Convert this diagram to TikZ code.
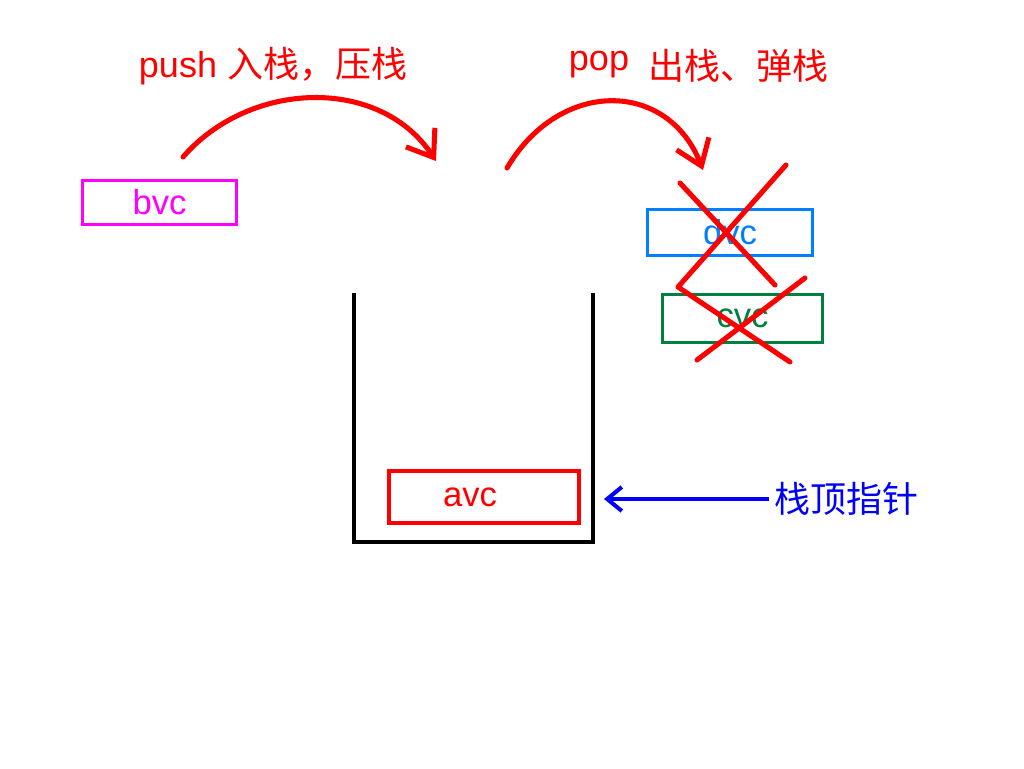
\documentclass[tikz,border=0pt]{standalone}
\usepackage{fontspec}
\setmainfont{Liberation Sans}
\newfontfamily\cjk{Noto Sans CJK SC}
\usetikzlibrary{arrows.meta}
\definecolor{bvcpink}{RGB}{255,0,255}
\definecolor{dvcblue}{RGB}{0,128,255}
\definecolor{cvcgreen}{RGB}{0,128,64}
\definecolor{ptrblue}{RGB}{0,0,255}

\begin{document}
\begin{tikzpicture}[x=0.75pt,y=-0.75pt,
  elem/.style={draw,line width=2.8pt,inner sep=0pt,font=\fontsize{26}{30}\selectfont},
  heading/.style={red,anchor=base,inner sep=0pt,font=\fontsize{27}{30}\selectfont},
  swing/.style={red,line width=3.8pt,line cap=round,-{Straight Barb[length=18pt,width=26pt]}},
  cross/.style={red,line width=3.8pt,line cap=round,line join=round}]
\useasboundingbox (0,0) rectangle (1024,768);
\node[heading] (push) at (273,77){push {\cjk 入栈，压栈}};
\node[heading] (pop) at (599,70){pop};
\node[heading] (popcn) at (738,79){\cjk 出栈、弹栈};
\node[elem,bvcpink,minimum width=115.5pt,minimum height=33pt] (bvc) at (159.5,202.5){bvc};
\node[elem,dvcblue,minimum width=123.75pt,minimum height=34.5pt] (dvc) at (730,232.5){dvc};
\node[elem,cvcgreen,minimum width=120pt,minimum height=36pt] (cvc) at (742.5,318.5){cvc};
\node[elem,red,minimum width=142.5pt,minimum height=39pt,
  label={[red,xshift=-10.5pt,font=\fontsize{26}{30}\selectfont]center:avc}] (avc) at (484,497){};
\node[ptrblue,font=\fontsize{27}{30}\selectfont\cjk] (top) at (846,499){栈顶指针};
% stack
\draw[line width=3pt] (354,293) -- (354,542) -- (593,542) -- (593,293);
% push / pop
\coordinate (pushA) at (183,157);
\coordinate (pushB) at (436,161);
\coordinate (popA) at (507,168);
\coordinate (popB) at (703,170);
\draw[swing] (pushA) .. controls (250,80) and (380,76) .. (pushB);
\draw[swing] (popA) .. controls (560,78) and (668,80) .. (popB);
% popped
\draw[cross] (680,183) -- (775,285);
\draw[cross] (786,165) -- (678,287) -- (790,362);
\draw[cross] (805,278) -- (697,360);
% top pointer
\coordinate (topT) at (604,499);
\draw[ptrblue,line width=3pt,-{Straight Barb[length=11pt,width=18pt]}] (top.west) -- (topT);
\end{tikzpicture}
\end{document}
